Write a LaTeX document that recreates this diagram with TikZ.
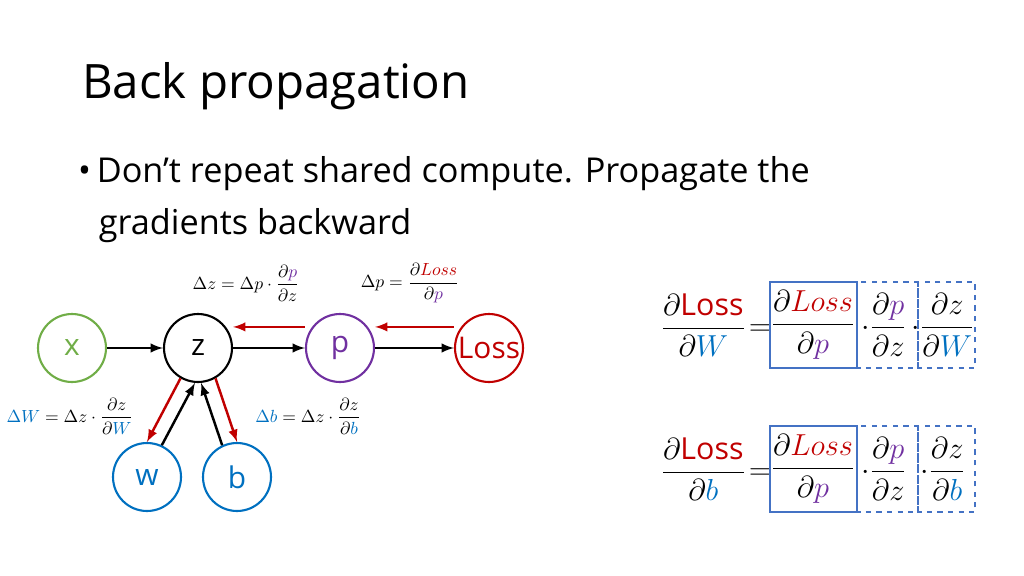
\documentclass[tikz,border=0pt]{standalone}
\usepackage{fontspec}
\setmainfont{Open Sans}
\usepackage{amsmath}
\usetikzlibrary{positioning}
\tikzset{>=latex}
\definecolor{xgreen}{HTML}{70AD47}
\definecolor{ppurple}{HTML}{7030A0}
\definecolor{lred}{HTML}{C00000}
\definecolor{wblue}{HTML}{0070C0}
\definecolor{boxblue}{HTML}{4472C4}
\tikzstyle{var}=[circle,line width=1.2pt,minimum size=1.36cm,inner sep=0,font=\fontsize{17}{17}\selectfont]
\tikzstyle{fwd}=[->,line width=1.4pt,black]
\tikzstyle{bwd}=[->,line width=1.4pt,lred]
\newcommand{\cP}{\textcolor{ppurple}{p}}
\newcommand{\cL}{\textcolor{lred}{Loss}}
\newcommand{\cW}{\textcolor{wblue}{W}}
\newcommand{\cB}{\textcolor{wblue}{b}}

\begin{document}
\begin{tikzpicture}[x=0.02cm,y=-0.02cm]
  \useasboundingbox (0,0) rectangle (1024,575);
  \node[anchor=west,font=\fontsize{27}{27}\selectfont] (title) at (76,86) {Back propagation};
  \node[anchor=north west,align=left,font=\fontsize{19.5}{30}\selectfont] (bullet) at (72,150)
    {\textbullet\,Don’t repeat shared compute. Propagate the\\\hspace*{0.6em}gradients backward};

  % graph
  \node[var,draw=xgreen,text=xgreen] (x) at (72,348) {x};
  \node[var,draw=black] (z) at (198,348) {z};
  \node[var,draw=ppurple,text=ppurple] (p) at (340,348) {p};
  \node[var,draw=lred,text=lred] (loss) at (489,348) {Loss};
  \node[var,draw=wblue,text=wblue] (w) at (147,477) {w};
  \node[var,draw=wblue,text=wblue] (b) at (237,477) {b};

  \draw[fwd] (x) -- (z);
  \draw[fwd] (z) -- (p);
  \draw[fwd] (p) -- (loss);
  \draw[fwd] (w.65) -- (z.265);
  \draw[fwd] (b.115) -- (z.275);
  \draw[bwd] ([yshift=12pt]p.west) -- ([yshift=12pt]z.east);
  \draw[bwd] ([yshift=12pt]loss.west) -- ([yshift=12pt]p.east);
  \draw[bwd] (z.240) -- (w.90);
  \draw[bwd] (z.300) -- (b.90);

  % labels
  \node[font=\normalsize] (dz) at (246,283) {$\Delta z=\Delta p\cdot\dfrac{\partial \cP}{\partial z}$};
  \node[font=\normalsize] (dp) at (410,283) {$\Delta p=\dfrac{\partial \cL}{\partial \cP}$};
  \node[font=\normalsize] (dw) at (70,416) {$\textcolor{wblue}{\Delta W}=\Delta z\cdot\dfrac{\partial z}{\partial \cW}$};
  \node[font=\normalsize] (db) at (308,416) {$\textcolor{wblue}{\Delta b}=\Delta z\cdot\dfrac{\partial z}{\partial \cB}$};

  % chain rule
  \foreach \yy/\v [count=\i] in {325/\cW, 469/\cB}{
    \node[font=\LARGE,anchor=east] (lhs\i) at (772,\yy) {$\dfrac{\partial \textcolor{lred}{\mathrm{Loss}}}{\partial \v}\!=\!$};
    \node[font=\LARGE] (f\i) at (813,\yy) {$\dfrac{\partial \cL}{\partial \cP}$};
    \node[font=\LARGE] (g\i) at (884,\yy) {$\cdot\dfrac{\partial \cP}{\partial z}$};
    \node[font=\LARGE] (h\i) at (943,\yy) {$\cdot\dfrac{\partial z}{\partial \v}$};
    \draw[boxblue,line width=1.2pt] (770,\yy-43) rectangle (857,\yy+43);
    \draw[boxblue,line width=1.2pt,dashed] (857,\yy-43) rectangle (918,\yy+43);
    \draw[boxblue,line width=1.2pt,dashed] (918,\yy-43) rectangle (975,\yy+43);
  }
\end{tikzpicture}
\end{document}
